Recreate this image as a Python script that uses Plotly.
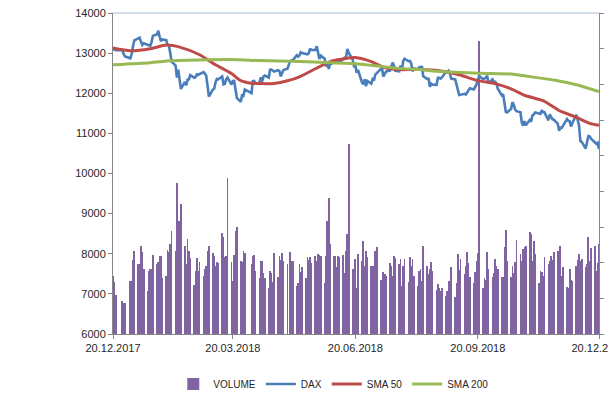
import pandas as pd
import plotly.graph_objects as go

# ---------------- data ----------------
holidays = ["2017-12-25", "2017-12-26", "2018-01-01", "2018-03-30", "2018-04-02", "2018-05-01"]

dax_2017_12 = [13069, 13110, 13073, 13070, 12979, 12918]
dax_2018_01 = [12871, 12978, 13167, 13319, 13367, 13385, 13281, 13202, 13245, 13201, 13183,
               13184, 13281, 13434, 13463, 13559, 13414, 13298, 13340, 13324, 13197, 13189]
dax_2018_02 = [13004, 12785, 12687, 12392, 12590, 12260, 12107, 12282, 12196, 12339, 12346,
               12452, 12385, 12405, 12470, 12461, 12483, 12527, 12490, 12436]
dax_2018_03 = [12190, 11914, 12090, 12113, 12277, 12355, 12346, 12418, 12221, 12237, 12345,
               12390, 12217, 12307, 12309, 12100, 11886, 11787, 11970, 11941, 12096]
dax_2018_04 = [12002, 12303, 12306, 12241, 12261, 12397, 12293, 12415, 12442, 12392, 12586,
               12591, 12567, 12540, 12572, 12550, 12422, 12501, 12580, 12612]
dax_2018_05 = [12802, 12820, 12819, 12948, 12912, 12943, 13022, 13001, 12977, 12970, 12996,
               13114, 13077, 13078, 13170, 12977, 12855, 12938, 12863, 12666, 12783, 12605]
dax_2018_06 = [12724, 12770, 12787, 12830, 12811, 12767, 12842, 12890, 12891, 13107, 13011,
               12835, 12677, 12695, 12512, 12580, 12270, 12228, 12349, 12177, 12306]
dax_2018_07 = [12238, 12349, 12317, 12465, 12496, 12609, 12634, 12417, 12492, 12540, 12561,
               12661, 12765, 12686, 12561, 12548, 12689, 12579, 12809, 12860, 12798, 12806]
dax_2018_08 = [12737, 12546, 12616, 12598, 12648, 12634, 12676, 12424, 12358, 12359, 12163,
               12237, 12211, 12210, 12384, 12385, 12366, 12395, 12538, 12528, 12562, 12494, 12364]
dax_2018_09 = [12346, 12210, 12040, 11955, 11960, 11987, 11970, 12032, 12055, 12124, 12096,
               12157, 12219, 12326, 12431, 12350, 12375, 12385, 12435, 12247]
dax_2018_10 = [12346, 12287, 12287, 12244, 12112, 11948, 11977, 11712, 11539, 11523, 11614,
               11777, 11716, 11590, 11554, 11524, 11275, 11191, 11307, 11201, 11336, 11287, 11448]
dax_2018_11 = [11469, 11519, 11495, 11484, 11579, 11527, 11529, 11325, 11472, 11413, 11354,
               11341, 11245, 11066, 11141, 11138, 11193, 11355, 11310, 11299, 11170, 11257]
dax_2018_12 = [11465, 11335, 11200, 10811, 10788, 10622, 10780, 10931, 10924, 10866, 10772,
               10741, 10766, 10612]

vol_2017_12 = [82, 73, 55, 46, 44, 44]
vol_2018_01 = [75, 74, 104, 116, 98, 98, 124, 115, 91, 60, 88, 91, 91, 111, 98, 101, 109, 109, 78, 81, 118, 115]
vol_2018_02 = [126, 145, 117, 211, 158, 159, 182, 123, 98, 133, 116, 107, 68, 89, 107, 88, 101, 81, 91, 96]
vol_2018_03 = [117, 124, 113, 109, 96, 101, 99, 141, 136, 108, 109, 218, 101, 75, 111, 144, 150, 103, 101, 117, 114]
vol_2018_04 = [98, 110, 111, 89, 79, 102, 102, 85, 78, 64, 88, 85, 73, 113, 80, 109, 104, 113, 102, 98]
vol_2018_05 = [115, 102, 102, 67, 71, 98, 87, 94, 79, 108, 104, 108, 100, 110, 103, 112, 111, 109, 71, 110, 159, 190]
vol_2018_06 = [126, 110, 110, 94, 110, 108, 111, 85, 117, 140, 267, 91, 87, 105, 64, 112, 102, 131, 96, 117, 108]
vol_2018_07 = [96, 96, 81, 117, 122, 76, 75, 87, 84, 81, 99, 95, 82, 109, 107, 98, 105, 67, 96, 105, 73, 108]
vol_2018_08 = [96, 105, 81, 67, 89, 91, 75, 124, 95, 84, 91, 101, 88, 61, 70, 65, 60, 64, 53, 60, 75, 75, 94]
vol_2018_09 = [52, 71, 112, 90, 105, 84, 96, 115, 100, 80, 72, 87, 102, 113, 411, 64, 78, 76, 115, 91]
vol_2018_10 = [80, 85, 105, 96, 91, 80, 80, 122, 146, 102, 80, 96, 85, 101, 132, 112, 103, 119, 122, 124, 143, 140, 102]
vol_2018_11 = [131, 112, 72, 88, 87, 82, 108, 98, 103, 109, 104, 115, 116, 101, 123, 81, 94, 66, 65, 91, 76, 75]
vol_2018_12 = [95, 104, 112, 102, 105, 94, 98, 136, 103, 121, 124, 88, 99, 126]

sma50_dates = ["2017-12-20", "2018-01-02", "2018-01-17", "2018-01-29", "2018-02-08", "2018-02-23",
               "2018-03-07", "2018-03-19", "2018-03-26", "2018-04-03", "2018-04-11", "2018-04-20",
               "2018-04-30", "2018-05-09", "2018-05-21", "2018-06-01", "2018-06-12", "2018-06-20",
               "2018-07-02", "2018-07-12", "2018-07-23", "2018-08-07", "2018-08-22", "2018-09-06",
               "2018-09-20", "2018-10-03", "2018-10-15", "2018-10-25", "2018-11-09", "2018-11-20",
               "2018-12-03", "2018-12-13", "2018-12-20"]
sma50_values = [13130, 13060, 13110, 13200, 13150, 12960,
                12710, 12490, 12315, 12250, 12240, 12245,
                12310, 12410, 12610, 12790, 12860, 12890,
                12790, 12640, 12590, 12590, 12560, 12460,
                12315, 12240, 12110, 11950, 11800, 11570,
                11400, 11250, 11200]

sma200_dates = ["2017-12-20", "2018-01-17", "2018-02-01", "2018-02-23", "2018-03-19", "2018-04-09",
                "2018-05-09", "2018-06-01", "2018-06-22", "2018-07-09", "2018-07-23", "2018-08-07",
                "2018-08-24", "2018-09-21", "2018-10-15", "2018-10-26", "2018-11-16", "2018-12-03",
                "2018-12-20"]
sma200_values = [12710, 12760, 12810, 12830, 12840, 12815,
                 12790, 12760, 12730, 12670, 12620, 12590,
                 12540, 12500, 12480, 12430, 12330, 12210,
                 12040]

tick_dates = ["2017-12-20", "2018-03-20", "2018-06-20", "2018-09-20", "2018-12-20"]
tick_labels = ["20.12.2017", "20.03.2018", "20.06.2018", "20.09.2018", "20.12.2018"]

# ---------------- assemble ----------------
trade_days = [d for d in pd.bdate_range("2017-12-20", "2018-12-20")
              if d.strftime("%Y-%m-%d") not in holidays]
dax = (dax_2017_12 + dax_2018_01 + dax_2018_02 + dax_2018_03 + dax_2018_04 + dax_2018_05 +
       dax_2018_06 + dax_2018_07 + dax_2018_08 + dax_2018_09 + dax_2018_10 + dax_2018_11 + dax_2018_12)
volume = (vol_2017_12 + vol_2018_01 + vol_2018_02 + vol_2018_03 + vol_2018_04 + vol_2018_05 +
          vol_2018_06 + vol_2018_07 + vol_2018_08 + vol_2018_09 + vol_2018_10 + vol_2018_11 + vol_2018_12)
n = min(len(trade_days), len(dax), len(volume))
trade_days, dax, volume = trade_days[:n], dax[:n], volume[:n]

FONT = "Liberation Sans, Arial, sans-serif"
AXIS = "#868686"
TXT = "#262626"

fig = go.Figure()
fig.add_trace(go.Bar(x=trade_days, y=volume, name="VOLUME", yaxis="y",
                     marker=dict(color="#8064A2", line=dict(width=0)),
                     width=0.6 * 86400000))
fig.add_trace(go.Scatter(x=trade_days, y=dax, name="DAX", yaxis="y2", mode="lines",
                         line=dict(color="#4A7EBB", width=2.6)))
fig.add_trace(go.Scatter(x=sma50_dates, y=sma50_values, name="SMA 50", yaxis="y2", mode="lines",
                         line=dict(color="#BE4B48", width=3, shape="spline", smoothing=0.6)))
fig.add_trace(go.Scatter(x=sma200_dates, y=sma200_values, name="SMA 200", yaxis="y2", mode="lines",
                         line=dict(color="#98B954", width=3, shape="spline", smoothing=0.6)))

# page body has an 8px default margin, so the figure is 608x392 and offsets are shifted by 8px
fig.update_layout(
    width=608, height=392,
    margin=dict(l=105, r=17, t=5, b=66, autoexpand=False),
    paper_bgcolor="white", plot_bgcolor="white",
    font=dict(family=FONT, size=11, color=TXT),
    bargap=0,
    showlegend=True,
    legend=dict(orientation="h", xref="container", yref="container",
                x=0.535, xanchor="center", y=0.041, yanchor="middle",
                font=dict(size=10, color=TXT), itemwidth=30,
                traceorder="normal"),
    xaxis=dict(type="date", range=["2017-12-20", "2018-12-20"], automargin=False,
               tickmode="array", tickvals=tick_dates, ticktext=tick_labels,
               ticks="outside", ticklen=4, tickcolor=AXIS,
               showline=True, linecolor=AXIS, linewidth=1,
               showgrid=False, zeroline=False, ticklabeloverflow="allow",
               tickfont=dict(size=11, color=TXT)),
    yaxis=dict(range=[0, 450], dtick=50, side="right", showticklabels=False,
               automargin=False,
               ticks="outside", ticklen=4, tickcolor=AXIS,
               showline=True, linecolor=AXIS, linewidth=1,
               showgrid=False, zeroline=False),
    yaxis2=dict(range=[6000, 14000], dtick=1000, side="left", overlaying="y",
                tickformat="d", automargin=False, ticklabeloverflow="allow",
                ticks="outside", ticklen=4, tickcolor=AXIS,
                showline=True, linecolor=AXIS, linewidth=1,
                showgrid=False, zeroline=False,
                tickfont=dict(size=11, color=TXT)),
    shapes=[dict(type="line", xref="paper", yref="paper", x0=0, x1=1, y0=1, y1=1,
                 line=dict(color="#C3D2E6", width=1.5), layer="below")],
)

fig.write_html("out.html")
